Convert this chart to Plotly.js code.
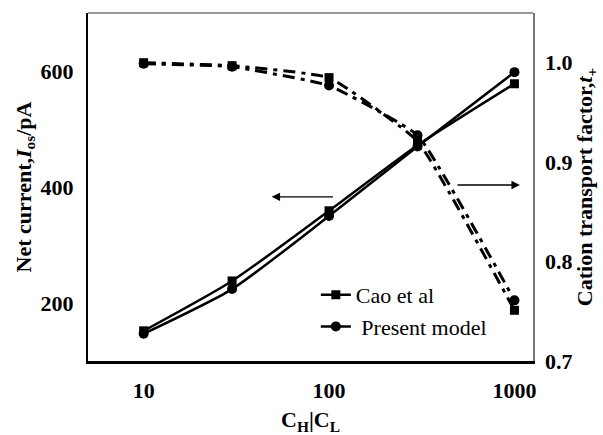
<!DOCTYPE html>
<html>
<head>
<meta charset="utf-8">
<script src="https://cdn.plot.ly/plotly-3.0.1.min.js"></script>
<style>
  html, body { margin: 0; padding: 0; background: #fff; }
  #chart { width: 603px; height: 435px; }
</style>
</head>
<body>
<div id="chart"></div>
<script>
// Concentration ratio C_H / C_L
const ratio = [10, 30, 100, 300, 1000];

// Net current I_os (pA), left axis
const currentCao     = [152, 238, 359, 472, 578];
const currentPresent = [147, 224, 350, 470, 598];

// Cation transport factor t+, right axis
const transportCao     = [1.000, 0.997, 0.985, 0.921, 0.751];
const transportPresent = [0.999, 0.996, 0.977, 0.927, 0.761];

// Axis ticks
const currentTicks   = [200, 400, 600];
const transportTicks = [0.7, 0.8, 0.9, 1.0];
const ratioTicks     = [10, 100, 1000];

// Direction arrows: tail x, head x, y
const leftArrow  = {tail: 107, head: 49,   y: 383};
const rightArrow = {tail: 484, head: 1070, y: 0.877};

const serif = 'Liberation Serif';
const dashDot = '12px,6px,4px,6px';
const bold = s => '<b>' + s + '</b>';

const traces = [
  {
    x: ratio, y: currentCao, name: 'Cao et al', type: 'scatter', mode: 'lines+markers',
    line: {color: '#000', width: 2.5, shape: 'spline', smoothing: 0.6},
    marker: {symbol: 'square', size: 9, color: '#000'}
  },
  {
    x: ratio, y: currentPresent, name: ' Present model', type: 'scatter', mode: 'lines+markers',
    line: {color: '#000', width: 2.5, shape: 'spline', smoothing: 0.6},
    marker: {symbol: 'circle', size: 10, color: '#000'}
  },
  {
    x: ratio, y: transportCao, yaxis: 'y2', showlegend: false, type: 'scatter', mode: 'lines+markers',
    line: {color: '#000', width: 3, dash: dashDot, shape: 'spline', smoothing: 0.35},
    marker: {symbol: 'square', size: 9, color: '#000'}
  },
  {
    x: ratio, y: transportPresent, yaxis: 'y2', showlegend: false, type: 'scatter', mode: 'lines+markers',
    line: {color: '#000', width: 3, dash: dashDot, shape: 'spline', smoothing: 0.35},
    marker: {symbol: 'circle', size: 10, color: '#000'}
  }
];

const tickFont = {family: serif, size: 22, color: '#000'};
const titleFont = {family: serif, size: 22, color: '#000'};

const layout = {
  width: 603, height: 435,
  margin: {l: 88, r: 70, t: 13, b: 74},
  paper_bgcolor: '#fff', plot_bgcolor: '#fff',
  font: {family: serif, color: '#000', size: 20},
  showlegend: true,
  legend: {
    x: 0.512, y: 0.25, xanchor: 'left', yanchor: 'top',
    bgcolor: 'rgba(0,0,0,0)', borderwidth: 0,
    font: {family: serif, size: 22, color: '#000'},
    tracegroupgap: 0, itemwidth: 30
  },
  xaxis: {
    type: 'log', range: [0.7, 3.1],
    tickvals: ratioTicks, ticktext: ratioTicks.map(v => bold(String(v))),
    ticks: '', showgrid: false, zeroline: false,
    showline: true, linecolor: '#000', linewidth: 2.5, mirror: false,
    tickfont: tickFont, ticklabelstandoff: 8,
    title: {text: bold('C<sub>H</sub>|C<sub>L</sub>'), font: titleFont, standoff: 16}
  },
  yaxis: {
    range: [100, 700],
    tickvals: currentTicks, ticktext: currentTicks.map(v => bold(String(v))),
    ticks: '', showgrid: false, zeroline: false,
    showline: true, linecolor: '#000', linewidth: 2.2, mirror: false,
    tickfont: tickFont, ticklabelstandoff: 8,
    title: {text: bold('Net current,<i>I</i><sub>os</sub>/pA'), font: titleFont, standoff: 3}
  },
  yaxis2: {
    overlaying: 'y', side: 'right',
    range: [0.7, 1.05],
    tickvals: transportTicks, ticktext: transportTicks.map(v => bold(v.toFixed(1))),
    ticks: '', showgrid: false, zeroline: false,
    showline: true, linecolor: '#777', linewidth: 1.5,
    tickfont: tickFont, ticklabelstandoff: 6,
    title: {text: bold('Cation transport factor,<i>t</i><sub>+</sub>'), font: titleFont, standoff: 0}
  },
  shapes: [
    {type: 'line', xref: 'paper', yref: 'paper', x0: 0, x1: 1, y0: 1, y1: 1,
     line: {color: '#777', width: 1.5}}
  ],
  annotations: [
    {xref: 'x', yref: 'y', axref: 'x', ayref: 'y',
     x: Math.log10(leftArrow.head), y: leftArrow.y,
     ax: Math.log10(leftArrow.tail), ay: leftArrow.y,
     text: '', showarrow: true, arrowhead: 2, arrowsize: 1.3, arrowwidth: 1.3, arrowcolor: '#000'},
    {xref: 'x', yref: 'y2', axref: 'x', ayref: 'y2',
     x: Math.log10(rightArrow.head), y: rightArrow.y,
     ax: Math.log10(rightArrow.tail), ay: rightArrow.y,
     text: '', showarrow: true, arrowhead: 2, arrowsize: 1.3, arrowwidth: 1.3, arrowcolor: '#000'}
  ]
};

Plotly.newPlot('chart', traces, layout, {displayModeBar: false, staticPlot: true});
</script>
</body>
</html>
